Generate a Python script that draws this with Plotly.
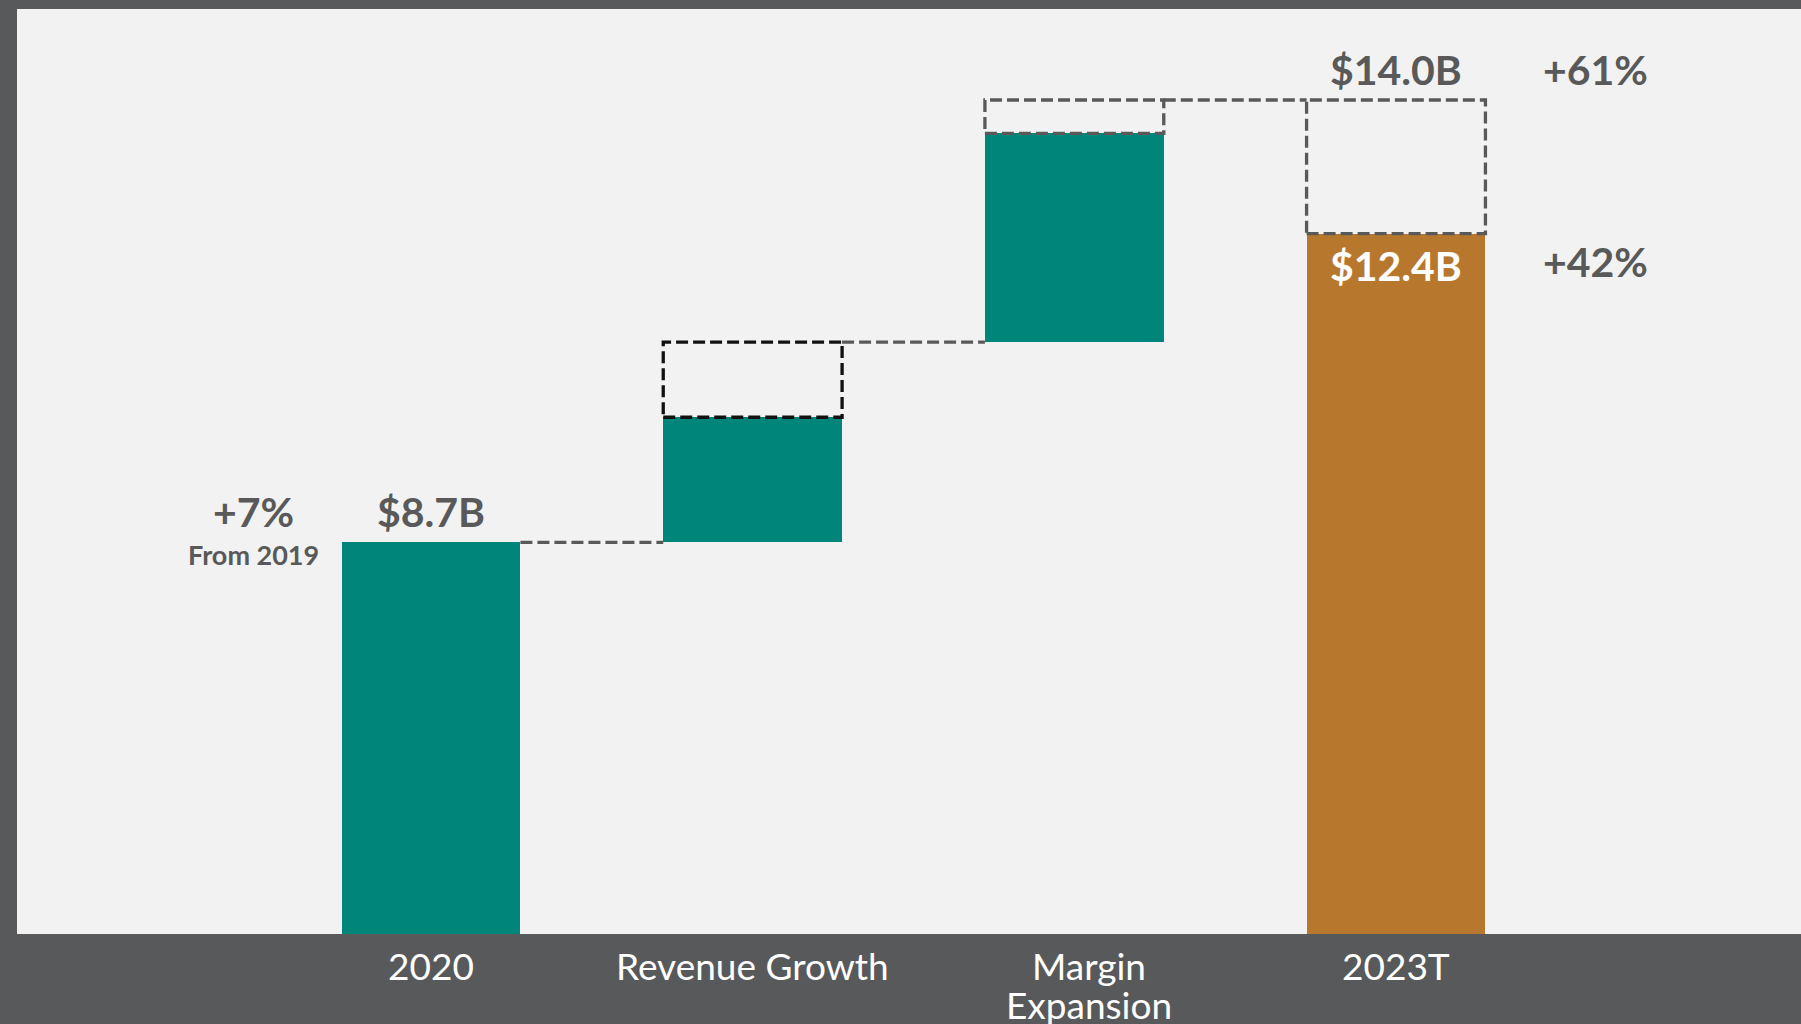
import plotly.graph_objects as go

# ---- data ----
categories = ["2020", "Revenue Growth", "Margin<br>Expansion", "2023T"]
start_value = 8.7            # 2020 EBITDA ($B)
achieved_delta = [1.5, 2.5]  # solid step increments (Revenue Growth, Margin Expansion)
target_extra = [0.9, 0.4]    # dashed (target) increments above each solid step
total_achieved = 12.4        # 2023T solid
total_target = 14.0          # 2023T target
label_start = "$8.7B"
label_total = "$12.4B"
label_target = "$14.0B"
pct_start = "+7%"
pct_start_sub = "From 2019"
pct_total = "+42%"
pct_target = "+61%"

TEAL = "#00857A"
ORANGE = "#B7782E"
DARK = "#58595B"
LIGHT = "#F2F2F2"
GRAY = "#595959"
BW = 0.556
label_dx = [0, 0, 0.045, 0]   # small horizontal nudge of category labels

# waterfall levels
bases, heights, box_tops = [0], [start_value], [None]
cur = start_value
for d, t in zip(achieved_delta, target_extra):
    bases.append(cur)
    heights.append(d)
    box_tops.append(cur + d + t)
    cur = cur + d + t
bases.append(0)
heights.append(total_achieved)
colors = [TEAL, TEAL, TEAL, ORANGE]
xs = list(range(len(categories)))

fig = go.Figure()
fig.add_trace(go.Bar(x=xs, y=heights, base=bases, width=BW,
                     marker=dict(color=colors, line=dict(width=0)),
                     hoverinfo="skip"))

dash = "12px,5px"
LW = 3.3
# dashed target boxes
box_colors = [None, "#111111", GRAY]
for i in (1, 2):
    fig.add_shape(type="rect", xref="x", yref="y",
                  x0=i - BW / 2, x1=i + BW / 2,
                  y0=bases[i] + heights[i], y1=box_tops[i],
                  line=dict(color=box_colors[i], width=LW, dash=dash))
fig.add_shape(type="rect", xref="x", yref="y",
              x0=3 - BW / 2, x1=3 + BW / 2,
              y0=total_achieved, y1=total_target,
              line=dict(color=GRAY, width=LW, dash=dash))

# connectors
conn_levels = [start_value, box_tops[1], box_tops[2]]
for i, lv in enumerate(conn_levels):
    fig.add_shape(type="line", xref="x", yref="y",
                  x0=i + BW / 2, x1=i + 1 - BW / 2, y0=lv, y1=lv,
                  line=dict(color=GRAY, width=LW, dash=dash))

bold = dict(family="Lato", size=41, color=GRAY)
ann = []
ann.append(dict(x=0, y=start_value, text="<b>%s</b>" % label_start, yshift=31, font=bold))
ann.append(dict(x=-0.553, y=start_value, text="<b>%s</b>" % pct_start, yshift=31, font=bold))
ann.append(dict(x=-0.553, y=start_value, text="<b>%s</b>" % pct_start_sub, yshift=-12,
                font=dict(family="Lato", size=27, color=GRAY)))
ann.append(dict(x=3, y=total_target, text="<b>%s</b>" % label_target, yshift=31, font=bold))
ann.append(dict(x=3.621, y=total_target, text="<b>%s</b>" % pct_target, yshift=31, font=bold))
ann.append(dict(x=3, y=total_achieved, text="<b>%s</b>" % label_total, yshift=-32,
                font=dict(family="Lato", size=41, color="white")))
ann.append(dict(x=3.621, y=total_achieved, text="<b>%s</b>" % pct_total, yshift=-28, font=bold))
for a in ann:
    a.update(xref="x", yref="y", showarrow=False, xanchor="center", yanchor="middle")

# category labels (drawn line by line for tight line spacing)
for i, cat in enumerate(categories):
    for j, line in enumerate(cat.split("<br>")):
        ann.append(dict(x=xs[i] + label_dx[i], y=0, xref="x", yref="paper",
                        text=line, showarrow=False, xanchor="center", yanchor="middle",
                        yshift=-31 - 39 * j,
                        font=dict(family="Lato", size=37, color="white")))

fig.update_layout(
    width=1801, height=1024,
    margin=dict(l=17, r=0, t=9, b=90),
    paper_bgcolor=DARK, plot_bgcolor=LIGHT,
    showlegend=False, bargap=0,
    annotations=ann,
    xaxis=dict(range=[-1.287, 4.259], showticklabels=False, automargin=False,
               showgrid=False, zeroline=False, showline=False, ticks="", fixedrange=True),
    yaxis=dict(range=[4.01, 15.09], showgrid=False, zeroline=False, showline=False,
               showticklabels=False, ticks="", fixedrange=True, automargin=False),
)
fig.write_html("out.html", config={"displayModeBar": False},
               post_script="document.body.style.margin='0';document.body.style.overflow='hidden';")
